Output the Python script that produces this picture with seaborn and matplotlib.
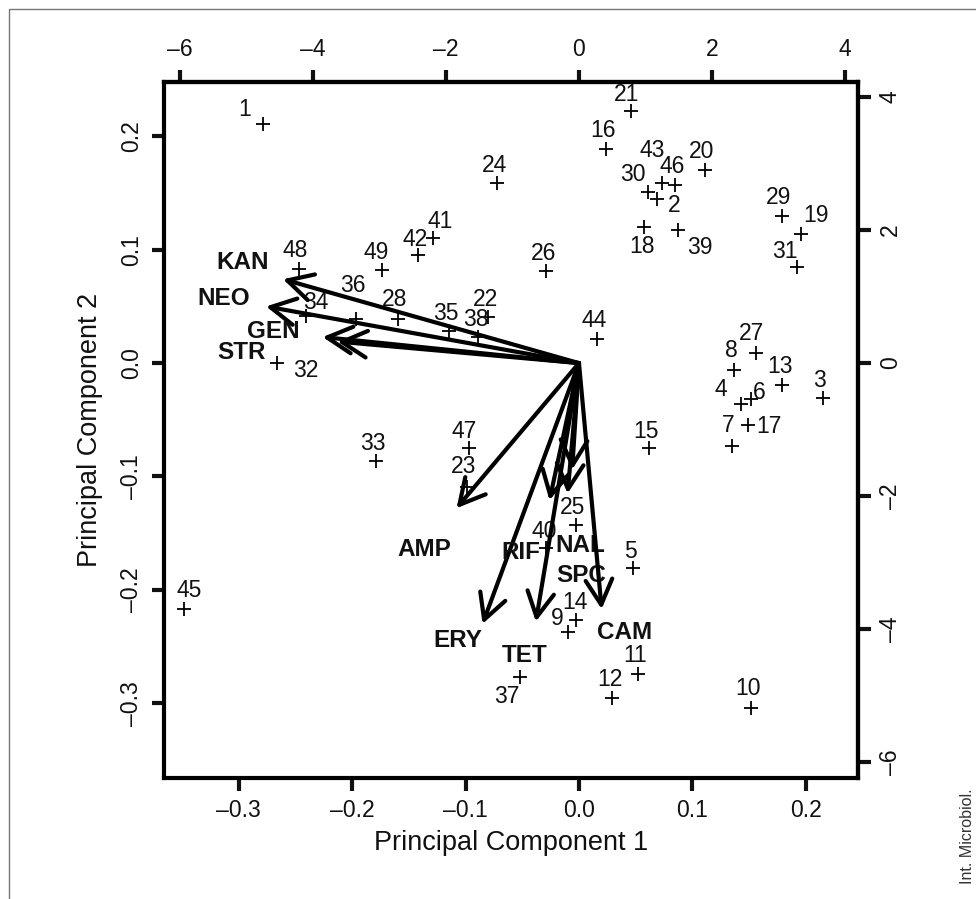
import matplotlib
matplotlib.use("Agg")
import matplotlib.pyplot as plt
import seaborn as sns
import pandas as pd
from matplotlib.patches import Rectangle

# sample scores (primary axes: PC1 / PC2)
ids = list(range(1, 50))
pc1 = [-0.279, 0.069, 0.215, 0.143, 0.048, 0.152, 0.135, 0.137, -0.010, 0.152,
       0.052, 0.029, 0.179, -0.003, 0.062, 0.024, 0.149, 0.057, 0.196, 0.111,
       0.046, -0.080, -0.099, -0.072, -0.003, -0.029, 0.156, -0.160, 0.179, 0.061,
       0.192, -0.266, -0.179, -0.241, -0.115, -0.197, -0.052, -0.089, 0.087, -0.029,
       -0.129, -0.142, 0.073, 0.016, -0.348, 0.085, -0.097, -0.247, -0.174]
pc2 = [0.211, 0.145, -0.031, -0.036, -0.181, -0.032, -0.073, -0.006, -0.237, -0.304,
       -0.274, -0.295, -0.019, -0.227, -0.075, 0.189, -0.055, 0.120, 0.114, 0.170,
       0.222, 0.041, -0.109, 0.159, -0.143, 0.081, 0.009, 0.039, 0.130, 0.151,
       0.085, 0.000, -0.086, 0.042, 0.028, 0.039, -0.277, 0.023, 0.117, -0.163,
       0.110, 0.095, 0.159, 0.021, -0.217, 0.157, -0.075, 0.083, 0.082]

# label offsets from each point (pixels, +y = up)
lbl_dx = [-18, 17, -3, -20, -3, 8, -4, -3, -10, -3,
          -3, -2, -2, -1, -3, -3, 21, -2, 15, -3,
          -5, -3, -3, -3, -3, -3, -4, -3, -3, -15,
          -12, 28, -3, 10, -3, -3, -13, -2, 22, -2,
          7, -3, -10, -3, 5, -3, -5, -4, -5]
lbl_dy = [14, -7, 18, 14, 17, 7, 20, 19, 13, 19,
          18, 18, 18, 18, 17, 18, -1, -19, 18, 19,
          17, 17, 20, 17, 18, 18, 19, 19, 18, 17,
          15, -7, 17, 13, 18, 33, -19, 18, -17, 16,
          17, 16, 32, 19, 19, 19, 17, 19, 18]

# antibiotic loadings (arrow tips) and their text positions
drugs = ["KAN", "NEO", "GEN", "STR", "AMP", "ERY", "TET", "RIF", "NAL", "SPC", "CAM"]
load1 = [-0.261, -0.276, -0.226, -0.213, -0.108, -0.085, -0.038, -0.026, -0.010, -0.006, 0.020]
load2 = [0.074, 0.050, 0.023, 0.019, -0.128, -0.230, -0.228, -0.121, -0.115, -0.094, -0.217]
text1 = [-0.297, -0.313, -0.270, -0.298, -0.136, -0.107, -0.048, -0.051, 0.001, 0.002, 0.040]
text2 = [0.089, 0.057, 0.028, 0.009, -0.164, -0.245, -0.258, -0.167, -0.161, -0.187, -0.238]

top_ticks = [-6, -4, -2, 0, 2, 4]
right_ticks = [-6, -4, -2, 0, 2, 4]
bottom_ticks = [-0.3, -0.2, -0.1, 0.0, 0.1, 0.2]
left_ticks = [-0.3, -0.2, -0.1, 0.0, 0.1, 0.2]
scale = 17.04  # loading-scale units per score unit

sns.set_style("ticks")
plt.rcParams["font.family"] = ["Liberation Sans", "DejaVu Sans"]
INK = "#111111"

df = pd.DataFrame({"id": ids, "pc1": pc1, "pc2": pc2})

fig = plt.figure(figsize=(9.76, 8.99), dpi=100)
ax = fig.add_axes([0.168, 0.1346, 0.711, 0.7742])

sns.scatterplot(data=df, x="pc1", y="pc2", marker="+", s=110, color="black",
                linewidth=1.3, ax=ax, zorder=3)
for i, x, y, dx, dy in zip(ids, pc1, pc2, lbl_dx, lbl_dy):
    ax.annotate(str(i), (x, y), xytext=(dx * 0.72, dy * 0.72), textcoords="offset points",
                ha="center", va="center", fontsize=16.5, color=INK)

for name, lx, ly, tx, ty in zip(drugs, load1, load2, text1, text2):
    ax.annotate("", xy=(lx, ly), xytext=(0, 0),
                arrowprops=dict(arrowstyle="->,head_length=0.6,head_width=0.32",
                                lw=3, color="black", mutation_scale=30,
                                shrinkA=0, shrinkB=0))
    ax.text(tx, ty, name, ha="center", va="center", fontsize=17.5,
            fontweight="bold", color=INK)

ax.set_xlim(-0.366, 0.246)
ax.set_ylim(-0.366, 0.248)
ax.set_xticks(bottom_ticks)
ax.set_xticklabels([f"{v:.1f}".replace("-", "\u2013") for v in bottom_ticks])
ax.set_yticks(left_ticks)
ax.set_yticklabels([f"{v:.1f}".replace("-", "\u2013") for v in left_ticks],
                   rotation=90, va="center")
ax.set_xlabel("Principal Component 1", fontsize=19.5, labelpad=6, color=INK)
ax.set_ylabel("Principal Component 2", fontsize=19.5, labelpad=12, color=INK)

secx = ax.secondary_xaxis("top", functions=(lambda v: v * scale, lambda v: v / scale))
secx.set_xticks(top_ticks)
secx.set_xticklabels([str(v).replace("-", "\u2013") for v in top_ticks])
secy = ax.secondary_yaxis("right", functions=(lambda v: v * scale, lambda v: v / scale))
secy.set_yticks(right_ticks)
secy.set_yticklabels([str(v).replace("-", "\u2013") for v in right_ticks],
                     rotation=90, va="center")

for a in (ax, secx, secy):
    a.tick_params(length=9, width=3, labelsize=16.5, pad=6, colors=INK)
    for sp in a.spines.values():
        sp.set_linewidth(3)
        sp.set_color("black")
for sp in ax.spines.values():
    sp.set_visible(True)

fig.patches.append(Rectangle((0.009, -0.01), 1.2, 1.0, transform=fig.transFigure,
                             fill=False, lw=1, edgecolor="#777777"))
fig.text(0.991, 0.07, "Int. Microbiol.", rotation=90, ha="center",
         va="center", fontsize=11.5, color="#333333")

fig.savefig("out.png", dpi=100)
